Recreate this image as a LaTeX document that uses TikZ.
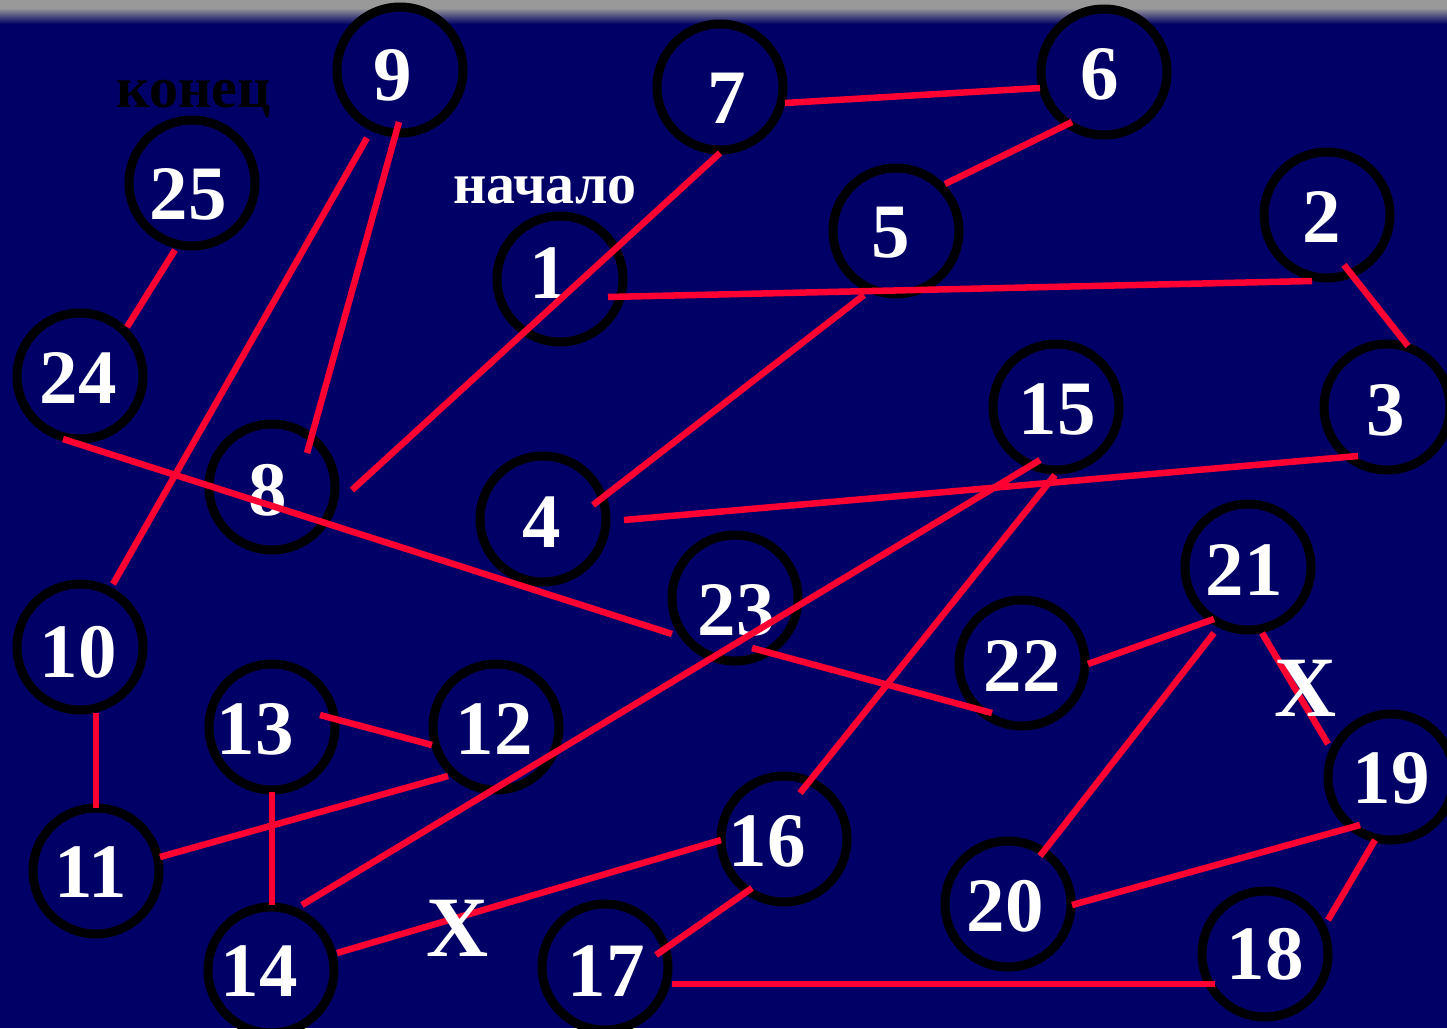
\documentclass[tikz,border=0pt]{standalone}
\usepackage{fontspec}
\setmainfont{Liberation Serif}
\usetikzlibrary{calc}
\definecolor{navy}{HTML}{000066}
\definecolor{linered}{HTML}{FF0033}
\tikzset{
  numcirc/.style={circle, draw=black, line width=9pt, fill=navy, minimum size=126pt,
    inner sep=0pt},
  numtext/.style={text=white, font=\fontsize{77}{77}\selectfont\bfseries, inner sep=0pt},
  redline/.style={draw=linered, line width=6.5pt},
  smallnote/.style={font=\fontsize{58}{58}\selectfont\bfseries, inner sep=0pt, anchor=base},
  xnote/.style={text=white, font=\fontsize{86}{86}\selectfont\bfseries, inner sep=0pt}
}
\begin{document}
\begin{tikzpicture}[x=1pt,y=-1pt]
    % background
    \fill[navy] (0,0) rectangle (1447,1028);
    \fill[black!40] (0,0) rectangle (1447,8);
    \shade[top color=black!40, bottom color=navy] (0,8) rectangle (1447,24);
    \useasboundingbox (0,0) rectangle (1447,1028);

    \node[numcirc, label={[numtext, shift={(-11,-6)}]center:1}]  (n1)  at (560,279)  {};
    \node[numcirc, label={[numtext, shift={(-5,2)}]center:2}]    (n2)  at (1327,215) {};
    \node[numcirc, label={[numtext, shift={(-1,3)}]center:3}]    (n3)  at (1387,407) {};
    \node[numcirc, label={[numtext, shift={(-1,3)}]center:4}]    (n4)  at (543,519)  {};
    \node[numcirc, label={[numtext, shift={(-5,2)}]center:5}]    (n5)  at (896,231)  {};
    \node[numcirc, label={[numtext, shift={(-4,2)}]center:6}]    (n6)  at (1104,72)  {};
    \node[numcirc, label={[numtext, shift={(7,11)}]center:7}]    (n7)  at (720,87)   {};
    \node[numcirc, label={[numtext, shift={(-4,3)}]center:8}]    (n8)  at (272,487)  {};
    \node[numcirc, label={[numtext, shift={(-7,5)}]center:9}]    (n9)  at (400,70)   {};
    \node[numcirc, label={[numtext, shift={(-2,5)}]center:10}]   (n10) at (80,647)   {};
    \node[numcirc, label={[numtext, shift={(-5,1)}]center:11}]   (n11) at (96,871)   {};
    \node[numcirc, label={[numtext, shift={(-2,2)}]center:12}]   (n12) at (496,727)  {};
    \node[numcirc, label={[numtext, shift={(-17,2)}]center:13}]  (n13) at (272,727)  {};
    \node[numcirc, label={[numtext, shift={(-12,1)}]center:14}]  (n14) at (271,970)  {};
    \node[numcirc, label={[numtext, shift={(1,2)}]center:15}]    (n15) at (1056,407) {};
    \node[numcirc, label={[numtext, shift={(-17,2)}]center:16}]  (n16) at (784,839)  {};
    \node[numcirc, label={[numtext, shift={(1,4)}]center:17}]    (n17) at (605,967)  {};
    \node[numcirc, label={[numtext, shift={(0,0)}]center:18}]    (n18) at (1265,954) {};
    \node[numcirc, label={[numtext, shift={(0,1)}]center:19}]    (n19) at (1391,777) {};
    \node[numcirc, label={[numtext, shift={(-3,2)}]center:20}]   (n20) at (1008,904) {};
    \node[numcirc, label={[numtext, shift={(-4,3)}]center:21}]   (n21) at (1248,567) {};
    \node[numcirc, label={[numtext, shift={(0,3)}]center:22}]    (n22) at (1022,663) {};
    \node[numcirc, label={[numtext, shift={(1,12)}]center:23}]   (n23) at (735,598)  {};
    \node[numcirc, label={[numtext, shift={(-2,2)}]center:24}]   (n24) at (80,376)   {};
    \node[numcirc, label={[numtext, shift={(-4,11)}]center:25}]  (n25) at (192,183)  {};

    \node[smallnote, text=black] (endlbl) at (194,107) {конец};
    \node[smallnote, text=white] (startlbl) at (545,203) {начало};

    % path
    \draw[redline] ($(n1)+(48,18)$) -- ($(n2)+(-15,66)$);
    \draw[redline] ($(n2)+(17,50)$) -- ($(n3)+(21,-61)$);
    \draw[redline] ($(n3)+(-29,49)$) -- ($(n4)+(81,1)$);
    \draw[redline] ($(n5)+(-32,64)$) -- ($(n4)+(50,-14)$);
    \draw[redline] ($(n6)+(-32,50)$) -- ($(n5)+(49,-47)$);
    \draw[redline] ($(n7)+(65,16)$) -- ($(n6)+(-64,16)$);
    \draw[redline] ($(n7)+(0,66)$) -- ($(n8)+(80,3)$);
    \draw[redline] ($(n9)+(-1,52)$) -- ($(n8)+(35,-34)$);
    \draw[redline] ($(n9)+(-33,68)$) -- ($(n10)+(33,-63)$);
    \draw[redline] ($(n10)+(16,66)$) -- ($(n11)+(0,-63)$);
    \draw[redline] ($(n12)+(-48,49)$) -- ($(n11)+(64,-14)$);
    \draw[redline] ($(n13)+(48,-12)$) -- ($(n12)+(-64,18)$);
    \draw[redline] ($(n13)+(0,65)$) -- ($(n14)+(1,-65)$);
    \draw[redline] ($(n15)+(-16,53)$) -- ($(n14)+(31,-65)$);
    \draw[redline] ($(n15)+(-1,68)$) -- ($(n16)+(16,-46)$);
    \draw[redline] ($(n16)+(-63,1)$) -- ($(n14)+(66,-17)$);
    \draw[redline] ($(n17)+(51,-12)$) -- ($(n16)+(-32,49)$);
    \draw[redline] ($(n17)+(67,17)$) -- ($(n18)+(-50,30)$);
    \draw[redline] ($(n19)+(-16,63)$) -- ($(n18)+(63,-34)$);
    \draw[redline] ($(n19)+(-31,48)$) -- ($(n20)+(64,1)$);
    \draw[redline] ($(n21)+(14,66)$) -- ($(n19)+(-63,-33)$);
    \draw[redline] ($(n21)+(-34,66)$) -- ($(n20)+(32,-48)$);
    \draw[redline] ($(n22)+(66,1)$) -- ($(n21)+(-34,52)$);
    \draw[redline] ($(n23)+(17,50)$) -- ($(n22)+(-30,50)$);
    \draw[redline] ($(n24)+(-17,63)$) -- ($(n23)+(-63,36)$);
    \draw[redline] ($(n25)+(-17,67)$) -- ($(n24)+(47,-49)$);

    \node[xnote] (xa) at (1306,688) {X};
    \node[xnote] (xb) at (458,928) {X};
\end{tikzpicture}
\end{document}
